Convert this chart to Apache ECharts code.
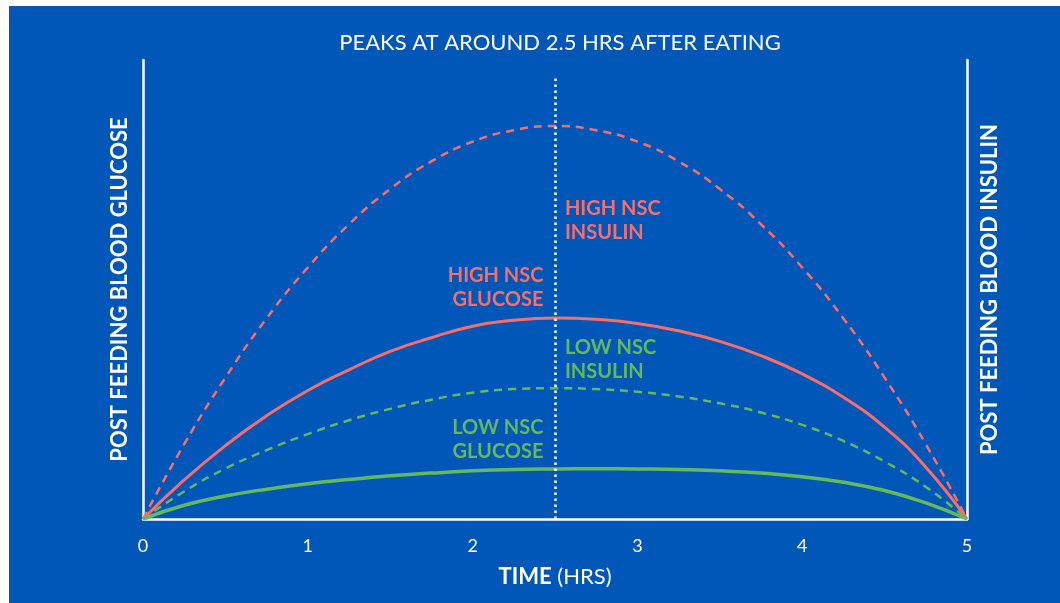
<!DOCTYPE html>
<html><head><meta charset="utf-8">
<script src="https://cdn.jsdelivr.net/npm/echarts@6/dist/echarts.min.js"></script>
<style>
html,body{margin:0;padding:0;background:#ffffff;width:1060px;height:603px;overflow:hidden}
#c{position:absolute;left:9px;top:6px;width:1051px;height:597px;}
</style></head>
<body><div id="c"></div>
<script>
const hours = [0,0.25,0.5,0.75,1,1.25,1.5,1.75,2,2.25,2.5,2.75,3,3.25,3.5,3.75,4,4.25,4.5,4.75,5];
const xTicks = ['0','1','2','3','4','5'];
const highInsulin = [0,16.3,30.8,43.7,54.8,64.2,71.9,77.9,82.2,84.7,85.6,84.7,82.2,77.9,71.9,64.2,54.8,43.7,30.8,16.3,0];
const highGlucose = [0,8.5,16,22.5,28,32.5,36.5,39.5,42,43.3,43.8,43.5,42.6,41,38.7,35.6,31.6,26.5,20,11.3,0];
const lowInsulin  = [0,6,11,15,18.5,21.5,24,26,27.5,28.3,28.5,28.3,27.7,26.7,25.2,23.2,20.5,17,12.5,7,0];
const lowGlucose  = [0,3,5,6.5,7.7,8.6,9.4,10,10.5,10.8,10.9,10.95,10.9,10.8,10.5,10,9.2,8,6.2,3.5,0];
const peakHour = 2.5;
const annotations = [
  {text:'HIGH NSC\nINSULIN', x:2.56, y:65.1, color:'#fa6e6a', align:'left'},
  {text:'HIGH NSC\nGLUCOSE', x:2.43, y:50.5, color:'#fa6e6a', align:'right'},
  {text:'LOW NSC\nINSULIN', x:2.56, y:34.7, color:'#63b95b', align:'left'},
  {text:'LOW NSC\nGLUCOSE', x:2.43, y:17.4, color:'#63b95b', align:'right'}
];
const RED = '#fa6e6a', GREEN = '#63b95b', WHITE = '#ffffff';
const FONT = 'Lato';
function pairs(v){ return hours.map((h,i)=>[h,v[i]]); }

const chart = echarts.init(document.getElementById('c'));
const option = {
  backgroundColor: '#0057b8',
  animation: false,
  title: {
    text: 'PEAKS AT AROUND 2.5 HRS AFTER EATING',
    left: 546, top: 21, textAlign: 'center',
    textStyle: {color: WHITE, fontSize: 22, fontWeight: 'normal', fontFamily: FONT}
  },
  grid: {left: 134, right: 93, top: 54, bottom: 84},
  xAxis: {
    type: 'value', min: 0, max: 5, interval: 1,
    axisLine: {show: true, lineStyle: {color: WHITE, width: 2.5}},
    axisTick: {show: false}, splitLine: {show: false},
    axisLabel: {color: WHITE, fontSize: 18, fontFamily: FONT, margin: 18,
      formatter: v => xTicks[Math.round(v)]},
    name: '{b|TIME}{r| (HRS)}', nameLocation: 'middle', nameGap: 47,
    nameTextStyle: {rich: {
      b: {color: WHITE, fontSize: 22, fontWeight: 'bold', fontFamily: FONT},
      r: {color: WHITE, fontSize: 22, fontWeight: 'normal', fontFamily: FONT}
    }}
  },
  yAxis: [
    {type: 'value', min: 0, max: 100, position: 'left',
     axisLine: {show: true, lineStyle: {color: WHITE, width: 2.5}},
     axisTick: {show: false}, axisLabel: {show: false}, splitLine: {show: false},
     name: 'POST FEEDING BLOOD GLUCOSE', nameLocation: 'middle', nameRotate: 90, nameGap: 12,
     nameTextStyle: {color: WHITE, fontSize: 22, fontWeight: 'bold', fontFamily: FONT}},
    {type: 'value', min: 0, max: 100, position: 'right',
     axisLine: {show: true, lineStyle: {color: WHITE, width: 2.5}},
     axisTick: {show: false}, axisLabel: {show: false}, splitLine: {show: false},
     name: 'POST FEEDING BLOOD INSULIN', nameLocation: 'middle', nameRotate: 90, nameGap: 12,
     nameTextStyle: {color: WHITE, fontSize: 22, fontWeight: 'bold', fontFamily: FONT}}
  ],
  series: [
    {type: 'line', yAxisIndex: 1, data: pairs(highInsulin), smooth: true, showSymbol: false,
     lineStyle: {color: RED, width: 2.5, type: [8, 6]}},
    {type: 'line', yAxisIndex: 1, data: pairs(lowInsulin), smooth: true, showSymbol: false,
     lineStyle: {color: GREEN, width: 2.5, type: [8, 6]}},
    {type: 'line', yAxisIndex: 0, data: pairs(highGlucose), smooth: true, showSymbol: false,
     lineStyle: {color: RED, width: 3}},
    {type: 'line', yAxisIndex: 0, data: pairs(lowGlucose), smooth: true, showSymbol: false,
     lineStyle: {color: GREEN, width: 3.5},
     markLine: {symbol: 'none', silent: true, label: {show: false}, z: 10,
       lineStyle: {color: WHITE, width: 2.5, type: [2.5, 3.5], cap: 'butt'},
       data: [[{coord: [peakHour, 0]}, {coord: [peakHour, 96]}]]}}
  ]
};
chart.setOption(option);
const graphics = annotations.map(a => {
  const p = chart.convertToPixel({xAxisIndex: 0, yAxisIndex: 0}, [a.x, a.y]);
  return {type: 'text', x: p[0], y: p[1], z: 20,
    style: {text: a.text, fill: a.color, font: 'bold 20px ' + FONT, align: a.align,
      verticalAlign: 'middle', lineHeight: 24}};
});
chart.setOption({graphic: graphics});
</script>
</body></html>
